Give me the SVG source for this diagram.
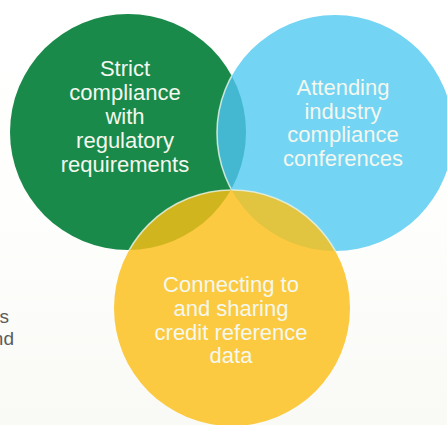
<svg xmlns="http://www.w3.org/2000/svg" width="447" height="425" viewBox="0 0 447 425">
  <defs>
    <linearGradient id="bg" x1="0" y1="0" x2="0" y2="1">
      <stop offset="0" stop-color="#ffffff"/>
      <stop offset="0.5" stop-color="#fefefc"/>
      <stop offset="1" stop-color="#f9f9f6"/>
    </linearGradient>
    <clipPath id="clipG"><circle cx="128" cy="132" r="118"/></clipPath>
    <clipPath id="clipB"><circle cx="335" cy="133" r="118"/></clipPath>
    <clipPath id="clipY"><circle cx="232" cy="308" r="118"/></clipPath>
  </defs>
  <style>
    .lbl { font-family: "Liberation Sans", Arial, sans-serif; font-size: 22px; fill: #f4f8ee; text-anchor: middle; }
    .side { font-family: "Liberation Sans", Arial, sans-serif; font-size: 19px; fill: #5a5a5a; text-anchor: end; }
    .rim { fill: none; stroke: #e8f2e6; stroke-opacity: 0.8; stroke-width: 1.6; }
  </style>
  <rect width="447" height="425" fill="url(#bg)"/>

  <text class="side" x="9" y="323">s</text>
  <text class="side" x="14" y="345">nd</text>

  <g id="node-green">
    <circle cx="128" cy="132" r="118" fill="#1a8a4b"/>
  </g>
  <g id="node-blue">
    <circle cx="335" cy="133" r="118" fill="#73d4f4"/>
    <circle cx="335" cy="133" r="118" fill="#44b7d1" clip-path="url(#clipG)"/>
    <circle cx="335" cy="133" r="118" class="rim" clip-path="url(#clipG)"/>
  </g>
  <g id="node-yellow">
    <circle cx="232" cy="308" r="118" fill="#fcca41"/>
    <g clip-path="url(#clipY)">
      <circle cx="128" cy="132" r="118" fill="#d0b51f"/>
      <circle cx="335" cy="133" r="118" fill="#e1c43f"/>
      <g clip-path="url(#clipG)">
        <circle cx="335" cy="133" r="118" fill="#fcc83c"/>
      </g>
    </g>
    <g clip-path="url(#clipG)"><circle cx="232" cy="308" r="118" class="rim"/></g>
    <g clip-path="url(#clipB)"><circle cx="232" cy="308" r="118" class="rim"/></g>
  </g>

  <g id="connectors"/>

  <g id="labels">
    <text class="lbl" x="125" y="76">Strict</text>
    <text class="lbl" x="125" y="100">compliance</text>
    <text class="lbl" x="125" y="124">with</text>
    <text class="lbl" x="125" y="148">regulatory</text>
    <text class="lbl" x="125" y="172">requirements</text>

    <text class="lbl" x="343" y="95">Attending</text>
    <text class="lbl" x="343" y="119">industry</text>
    <text class="lbl" x="343" y="142">compliance</text>
    <text class="lbl" x="343" y="166">conferences</text>

    <text class="lbl" x="231" y="292">Connecting to</text>
    <text class="lbl" x="231" y="316">and sharing</text>
    <text class="lbl" x="231" y="340">credit reference</text>
    <text class="lbl" x="231" y="363">data</text>
  </g>
</svg>
